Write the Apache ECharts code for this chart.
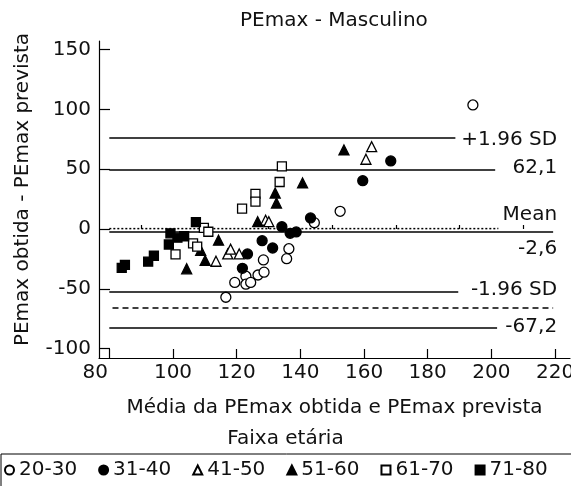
<!DOCTYPE html>
<html>
<head>
<meta charset="utf-8">
<script src="https://cdn.jsdelivr.net/npm/echarts@6/dist/echarts.min.js"></script>
<style>
  html, body { margin: 0; padding: 0; background: #fff; }
  #chart { width: 571px; height: 486px; }
</style>
</head>
<body>
<div id="chart"></div>
<script>
// faixas etárias
const ageGroups = ['20-30', '31-40', '41-50', '51-60', '61-70', '71-80']

// [média, diferença] por faixa
const g2030 = [[116.6, -57.1], [119.4, -44.7], [122.9, -39.5], [122.9, -46.2], [124.4, -44.7], [126.7, -38.5], [128.6, -36.1], [128.4, -25.9], [135.7, -24.8], [136.4, -16.5], [144.4, 5.3], [152.5, 14.8], [194.2, 103.7]]
const g3140 = [[121.8, -32.9], [123.4, -20.9], [128, -9.8], [131.3, -15.9], [134.2, 1.9], [136.8, -3.6], [138.7, -2.5], [143.2, 9.2], [159.6, 40.4], [168.4, 56.9]]
const g4150 = [[113.5, -27], [117.2, -20.9], [118.1, -16.9], [120.8, -20.9], [129.1, 7.3], [130.1, 6.1], [160.6, 58.3], [162.4, 68.8]]
const g5160 = [[104.3, -33.3], [108.7, -17.8], [110.1, -26.3], [114.3, -9.4], [126.6, 6.1], [132.1, 30.1], [132.5, 21.7], [140.7, 38.5], [153.7, 66.1]]
const g6170 = [[100.8, -21.2], [106.3, -12], [107.6, -14.8], [109.7, 1], [111.1, -2.3], [121.7, 17], [125.9, 29.3], [125.9, 22.8], [133.5, 39.3], [134.2, 52.4]]
const g7180 = [[83.9, -32.6], [84.9, -30.1], [92.2, -27.3], [94.0, -22.4], [98.7, -13], [99.2, -3.6], [101.4, -7.3], [103.5, -6.1], [107.2, 5.7]]

// linhas de referência (nível e onde terminam)
const refLevels = [76.1, 49.3, 0.3, -2.6, -52.7, -66, -82.9]
const refStarts = [80, 80, 80, 80, 80, 81, 80]
const refEnds = [188.7, 201.2, 202.2, 219.4, 189.6, 219.4, 201.8]

// textos à direita
const sideLabels = ['+1.96 SD', '62,1', 'Mean', '-2,6', '-1.96 SD', '-67,2']
const sideLabelY = [74.4, 51, 11.7, -16.7, -51, -82]

const xTicks = [80, 100, 120, 140, 160, 180, 200, 220]
const xMinorTicks = [90, 110, 130, 150, 170, 190, 210]
const yTicks = [-100, -50, 0, 50, 100, 150]

const font = 'DejaVu Sans'
const ink = '#111'

const groups = [g2030, g3140, g4150, g5160, g6170, g7180]
const symbols = ['circle', 'circle', 'triangle', 'triangle', 'rect', 'rect']
const filled = [false, true, false, true, false, true]
const refTypes = ['solid', 'solid', [2, 2], 'solid', 'solid', [6, 4], 'solid']

const chart = echarts.init(document.getElementById('chart'))

const refSeries = refLevels.map((y, i) => ({
  type: 'line',
  silent: true,
  symbol: 'none',
  data: [[refStarts[i], y], [refEnds[i], y]],
  lineStyle: { color: '#000', width: 1.5, type: refTypes[i] },
  z: 1,
}))

const pointSeries = groups.map((data, i) => ({
  name: ageGroups[i],
  type: 'scatter',
  symbol: symbols[i],
  symbolSize: symbols[i] === 'rect' ? 9 : 10,
  data,
  itemStyle: {
    color: filled[i] ? '#000' : '#fff',
    borderColor: '#000',
    borderWidth: 1.3,
    opacity: 1,
  },
  z: 3,
}))

chart.setOption({
  animation: false,
  title: [
    {
      text: 'PEmax - Masculino',
      left: 240,
      top: 11,
      padding: 0,
      textStyle: { fontFamily: font, fontSize: 20, fontWeight: 'normal', color: ink },
    },
    {
      text: 'Faixa etária',
      left: 'center',
      top: 429,
      padding: 0,
      textStyle: { fontFamily: font, fontSize: 20, fontWeight: 'normal', color: ink },
    },
  ],
  legend: {
    data: ageGroups,
    left: 1,
    top: 454,
    width: 620,
    padding: [6, 40, 30, 3],
    itemWidth: 9,
    itemHeight: 9,
    itemGap: 21,
    borderColor: '#000',
    borderWidth: 1,
    selectedMode: false,
    textStyle: { fontFamily: font, fontSize: 20, color: ink },
  },
  grid: { left: 99, right: 1, top: 41, bottom: 128, outerBoundsMode: 'none' },
  xAxis: [
    {
      type: 'value',
      min: 76.76,
      max: 224.7,
      name: 'Média da PEmax obtida e PEmax prevista',
      nameLocation: 'middle',
      nameGap: 40,
      nameTextStyle: { fontFamily: font, fontSize: 20, color: ink },
      axisLine: { onZero: false, lineStyle: { color: '#000', width: 1.2 } },
      axisTick: { inside: true, length: 9, customValues: xTicks, lineStyle: { color: '#000', width: 1.2 } },
      axisLabel: {
        customValues: xTicks,
        margin: 5,
        fontFamily: font,
        fontSize: 20,
        color: ink,
        formatter: v => (v === 80 ? '{a|80}' : String(v)),
        rich: { a: { fontFamily: font, fontSize: 20, color: ink, padding: [0, 28, 0, 0] } },
      },
      splitLine: { show: false },
    },
    {
      type: 'value',
      min: 76.76,
      max: 224.7,
      position: 'bottom',
      axisLine: { show: false },
      axisTick: { inside: true, length: 4, customValues: xMinorTicks, lineStyle: { color: '#000', width: 1.2 } },
      axisLabel: { show: false },
      splitLine: { show: false },
    },
  ],
  yAxis: {
    type: 'value',
    min: -107.9,
    max: 157.2,
    name: 'PEmax obtida - PEmax prevista',
    nameLocation: 'middle',
    nameGap: 66,
    nameTextStyle: { fontFamily: font, fontSize: 20, color: ink, padding: [0, 0, 0, 20] },
    axisLine: { onZero: false, lineStyle: { color: '#000', width: 1.2 } },
    axisTick: { inside: true, length: 11, customValues: yTicks, lineStyle: { color: '#000', width: 1.2 } },
    axisLabel: { customValues: yTicks, margin: 8, fontFamily: font, fontSize: 20, color: ink },
    splitLine: { show: false },
  },
  series: [
    ...refSeries,
    {
      type: 'scatter',
      silent: true,
      symbolSize: 0,
      itemStyle: { opacity: 1 },
      data: sideLabels.map((t, i) => ({ name: t, value: [220.65, sideLabelY[i]] })),
      label: {
        show: true,
        position: 'left',
        distance: 0,
        formatter: p => p.name,
        fontFamily: font,
        fontSize: 20,
        color: ink,
      },
      z: 2,
    },
    ...pointSeries,
  ],
})
</script>
</body>
</html>
